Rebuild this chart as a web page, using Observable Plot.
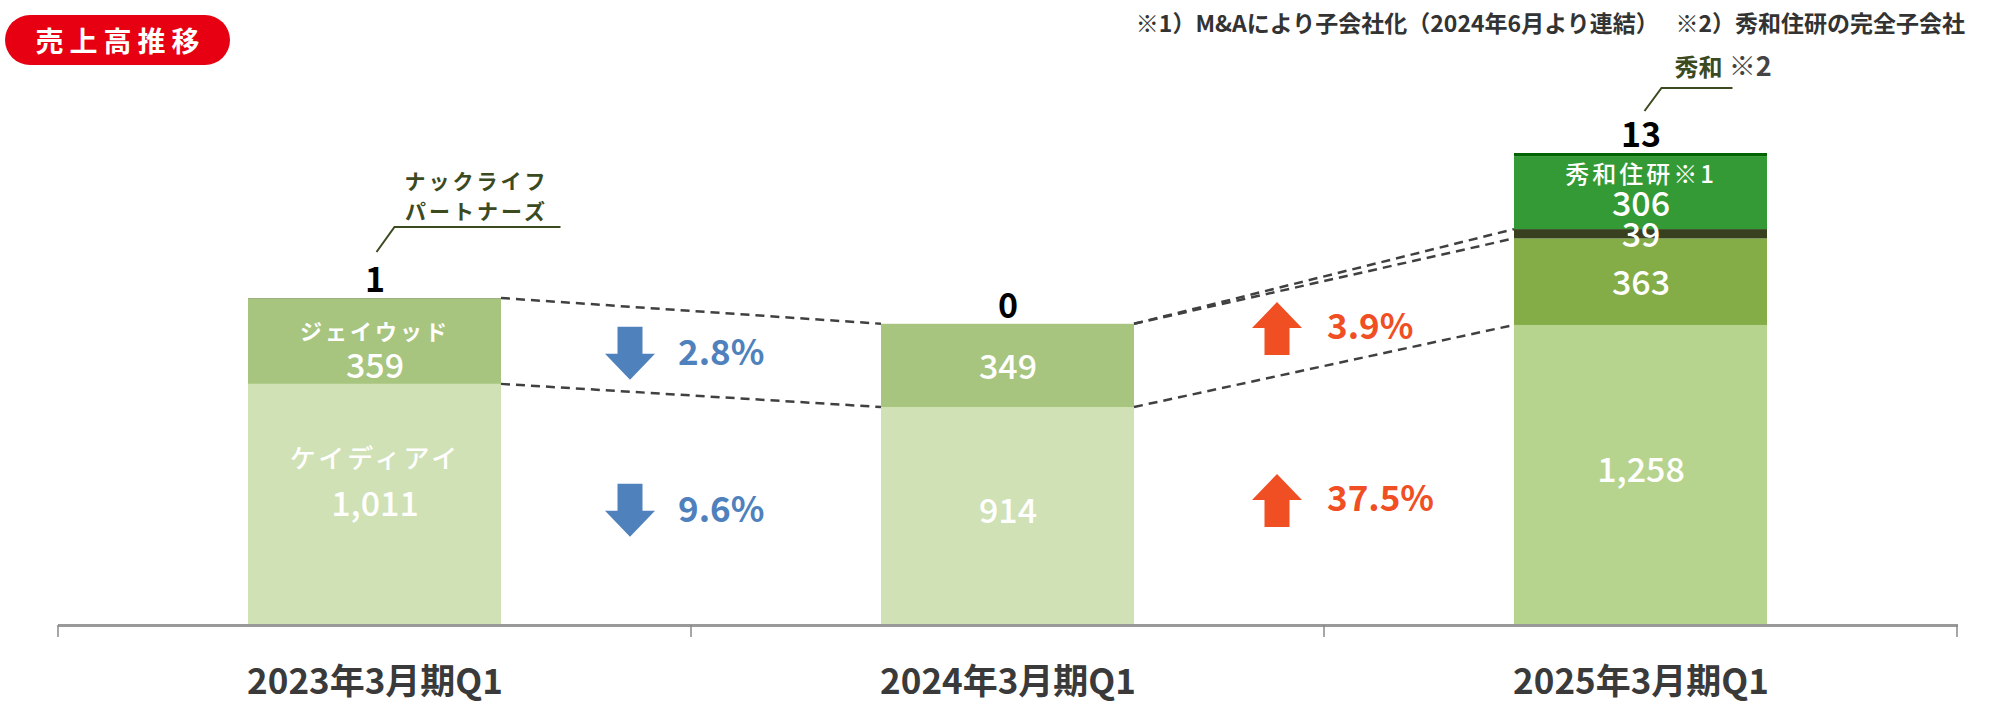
<!DOCTYPE html>
<html><head><meta charset="utf-8">
<script src="https://cdn.jsdelivr.net/npm/d3@7"></script>
<script src="https://cdn.jsdelivr.net/npm/@observablehq/plot@0.6"></script>
<style>
html,body{margin:0;padding:0;background:#fff;}
#wrap{position:relative;width:2007px;height:704px;overflow:hidden;font-family:"Noto Sans CJK JP","Noto Sans",sans-serif;}
#chart{position:absolute;left:0;top:0;}
#badge{position:absolute;left:5px;top:15px;width:225px;height:50px;border-radius:25px;background:#e60012;color:#fff;font-size:28px;font-weight:700;letter-spacing:6px;display:flex;align-items:center;justify-content:center;padding-left:6px;box-sizing:border-box;}
#note{position:absolute;right:42px;top:5px;font-size:23px;font-weight:700;color:#333;white-space:pre;}
svg g[aria-label^="x-axis"] text{font-size:35px;font-weight:700;fill:#3a3a3a;}
.ls3 text{letter-spacing:3px;}
</style></head>
<body><div id="wrap"><div id="chart"></div><div id="badge"></div><div id="note"></div></div>
<script>
// ---- data ----
const categories = ["2023年3月期Q1", "2024年3月期Q1", "2025年3月期Q1"];
const seriesNames = ["ケイディアイ", "ジェイウッド", "ナックライフパートナーズ", "秀和住研", "秀和"];
const keidiai = [1011, 914, 1258];
const jwood = [359, 349, 363];
const nack = [1, 0, 39];
const shuwaJuken = [0, 0, 306];
const shuwa = [0, 0, 13];
const topLabels = [1, 0, 13];
const segmentNames = [
  ["ケイディアイ", null, null],
  ["ジェイウッド", null, null],
  [null, null, null],
  [null, null, "秀和住研※1"],
  [null, null, null]
];
const pctLabels = ["2.8%", "9.6%", "3.9%", "37.5%"];
const pctDirection = ["down", "down", "up", "up"];
const pctSeries = ["ジェイウッド", "ケイディアイ", "ジェイウッド", "ケイディアイ"];
const pctFrom = [0, 0, 1, 1];
// connectors: [fromCategoryIndex, toCategoryIndex, fromSeriesLevel, toSeriesLevel]
const connectors = [[0, 1, 2, 2], [0, 1, 0, 0], [1, 2, 2, 2], [1, 2, 2, 1], [1, 2, 0, 0]];
const calloutNack = ["ナックライフ", "パートナーズ"];
const calloutShuwa = ["秀和", " ※2"];
const titleText = "売上高推移";
const noteText = "※1）M&Aにより子会社化（2024年6月より連結）　 ※2）秀和住研の完全子会社";

// ---- styles ----
const seriesColors = [
  ["#cfe1b5", "#cfe1b5", "#b7d48f"],
  ["#a7c57e", "#a7c57e", "#84ad48"],
  ["#394020", "#394020", "#394020"],
  ["#349a35", "#349a35", "#349a35"],
  ["#006400", "#006400", "#006400"]
];

document.getElementById("badge").textContent = titleText;
document.getElementById("note").textContent = noteText;

const seriesValues = [keidiai, jwood, nack, shuwaJuken, shuwa];
const rows = [];
categories.forEach((cat, i) => {
  let base = 0;
  seriesNames.forEach((s, k) => {
    const v = seriesValues[k][i];
    rows.push({cat, i, series: s, k, value: v, y1: base, y2: base + v, mid: base + v / 2,
               color: seriesColors[k][i], name: segmentNames[k][i]});
    base += v;
  });
});
const totals = categories.map((c, i) => d3.sum(seriesValues, s => s[i]));
const level = (i, k) => d3.sum(seriesValues.slice(0, k + 1), s => s[i]);
const fmt = d3.format(",");

const changes = pctLabels.map((label, j) => {
  const k = seriesNames.indexOf(pctSeries[j]);
  const a = rows.find(r => r.i === pctFrom[j] && r.k === k);
  const b = rows.find(r => r.i === pctFrom[j] + 1 && r.k === k);
  return {label, dir: pctDirection[j], to: categories[pctFrom[j] + 1], y: (a.mid + b.mid) / 2};
});

const arrowDown = {draw(ctx) {
  ctx.moveTo(-12.5, -27); ctx.lineTo(12.5, -27); ctx.lineTo(12.5, 0); ctx.lineTo(25, 0);
  ctx.lineTo(0, 26); ctx.lineTo(-25, 0); ctx.lineTo(-12.5, 0); ctx.closePath();
}};
const arrowUp = {draw(ctx) {
  ctx.moveTo(-12.5, 27); ctx.lineTo(12.5, 27); ctx.lineTo(12.5, 0); ctx.lineTo(25, 0);
  ctx.lineTo(0, -26); ctx.lineTo(-25, 0); ctx.lineTo(-12.5, 0); ctx.closePath();
}};

function overlay(index, scales) {
  const {x, y} = scales;
  const bw = x.bandwidth(), step = x.step();
  const gap = (step - bw) / 2;
  const g = d3.create("svg:g");
  const bounds = categories.map(c => x(c) - gap).concat([x(categories[categories.length - 1]) + bw + gap]);
  g.append("g").attr("stroke", "#8a8a8a").attr("stroke-width", 1.5)
    .selectAll("line").data(bounds).join("line")
    .attr("x1", d => d).attr("x2", d => d).attr("y1", y(0)).attr("y2", y(0) + 12);
  g.append("g").attr("stroke", "#404040").attr("stroke-width", 2.5).attr("stroke-dasharray", "9,6").attr("fill", "none")
    .selectAll("line").data(connectors).join("line")
    .attr("x1", d => x(categories[d[0]]) + bw).attr("y1", d => y(level(d[0], d[2])))
    .attr("x2", d => x(categories[d[1]])).attr("y2", d => y(level(d[1], d[3])));
  // callout: ナックライフパートナーズ
  const c0 = x(categories[0]) + bw / 2, t0 = y(totals[0]);
  g.append("path").attr("fill", "none").attr("stroke", "#3b4a1f").attr("stroke-width", 2)
    .attr("d", `M${c0 + 2},${t0 - 46}L${c0 + 20},${t0 - 71}H${c0 + 186}`);
  g.append("g").attr("fill", "#3b4a1f").attr("font-size", 21).attr("font-weight", 700)
    .attr("text-anchor", "middle").style("letter-spacing", "3px")
    .selectAll("text").data(calloutNack).join("text")
    .attr("x", c0 + 102).attr("y", (d, j) => t0 - 116 + j * 30).attr("dy", "0.35em").text(d => d);
  // callout: 秀和 ※2
  const c2 = x(categories[2]) + bw / 2, t2 = y(totals[2]);
  g.append("path").attr("fill", "none").attr("stroke", "#3b4a1f").attr("stroke-width", 2)
    .attr("d", `M${c2 + 4},${t2 - 42}L${c2 + 21},${t2 - 65}H${c2 + 92}`);
  const tx = g.append("text").attr("x", c2 + 34).attr("y", t2 - 81).attr("dy", "0.35em")
    .attr("text-anchor", "start").attr("font-weight", 700);
  tx.append("tspan").attr("fill", "#3b4a1f").attr("font-size", 24).text(calloutShuwa[0]);
  tx.append("tspan").attr("fill", "#444").attr("font-size", 27).text(calloutShuwa[1]);
  return g.node();
}

function namedLabel(k, nameDy, valueDy, nameSize, nameWeight) {
  const data = rows.filter(r => r.k === k && r.name);
  return [
    Plot.text(data, {x: "cat", y: "mid", text: "name", dy: nameDy, fill: "white", fontSize: nameSize, fontWeight: nameWeight, className: "ls3"}),
    Plot.text(data, {x: "cat", y: "mid", text: d => fmt(d.value), dy: valueDy, fill: "white", fontSize: 34, fontWeight: 500})
  ];
}

const plainValues = rows.filter(r => r.value >= 20 && !r.name);

const chart = Plot.plot({
  width: 2007, height: 704,
  marginLeft: 58, marginRight: 49, marginTop: 148, marginBottom: 79,
  style: {fontFamily: "'Noto Sans CJK JP','Noto Sans',sans-serif", background: "transparent", overflow: "visible"},
  x: {domain: categories, paddingInner: 0.6, paddingOuter: 0.3, label: null, tickSize: 0, tickPadding: 44},
  y: {domain: [0, 2000], axis: null},
  color: {type: "identity"},
  marks: [
    Plot.barY(rows, {x: "cat", y1: "y1", y2: "y2", fill: "color"}),
    Plot.ruleY([0], {stroke: "#999", strokeWidth: 3}),
    overlay,
    Plot.text(plainValues.filter(r => r.k !== 0), {x: "cat", y: "mid", text: d => fmt(d.value), dy: 2, fill: "white", fontSize: 34, fontWeight: 500}),
    Plot.text(plainValues.filter(r => r.k === 0), {x: "cat", y: "mid", text: d => fmt(d.value), dy: -4, fill: "white", fontSize: 34, fontWeight: 500}),
    ...namedLabel(0, -45, 0, 26, 500),
    ...namedLabel(1, -9, 26, 22, 700),
    ...namedLabel(3, -18, 12, 24, 500),
    Plot.text(categories, {x: d => d, y: (d, i) => totals[i], text: (d, i) => String(topLabels[i]), dy: -17, fill: "#000", fontSize: 34, fontWeight: 700}),
    Plot.dot(changes.filter(d => d.dir === "down"), {x: "to", y: "y", symbol: arrowDown, fill: "#4f81bd", stroke: "none", r: 10, dx: -378}),
    Plot.text(changes.filter(d => d.dir === "down"), {x: "to", y: "y", text: "label", dx: -330, textAnchor: "start", fill: "#4f81bd", fontSize: 35, fontWeight: 700}),
    Plot.dot(changes.filter(d => d.dir === "up"), {x: "to", y: "y", symbol: arrowUp, fill: "#f04e23", stroke: "none", r: 10, dx: -364, dy: 4}),
    Plot.text(changes.filter(d => d.dir === "up"), {x: "to", y: "y", text: "label", dx: -314, dy: 4, textAnchor: "start", fill: "#f04e23", fontSize: 35, fontWeight: 700})
  ]
});
document.getElementById("chart").appendChild(chart);
</script>
</body></html>
